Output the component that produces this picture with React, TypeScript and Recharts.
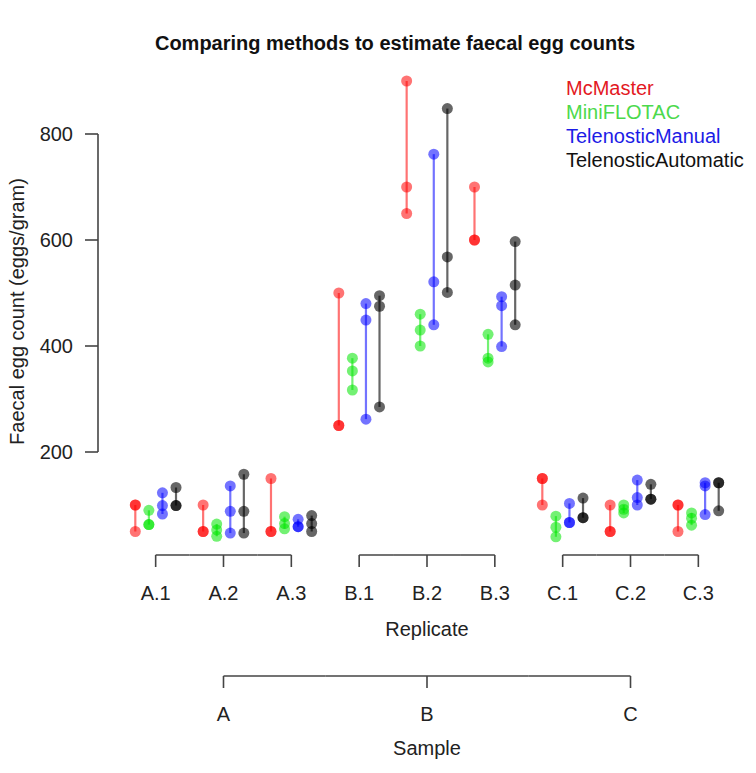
import React from 'react';
import { ComposedChart, Scatter, XAxis, YAxis, ErrorBar, ReferenceLine, Legend } from 'recharts';

// categories
const REPLICATES = ['A.1', 'A.2', 'A.3', 'B.1', 'B.2', 'B.3', 'C.1', 'C.2', 'C.3'];
const REPLICATE_TICKS = [1, 2, 3, 4, 5, 6, 7, 8, 9];
const SAMPLES = ['A', 'B', 'C'];
const SAMPLE_TICKS = [2, 5, 8];
const Y_TICKS = [200, 400, 600, 800];
const METHOD_NAMES = ['McMaster', 'MiniFLOTAC', 'TelenosticManual', 'TelenosticAutomatic'];

// three counts per replicate, eggs/gram
const MCMASTER = [
    [100, 100, 50], [100, 50, 50], [150, 50, 50],
    [500, 250, 250], [900, 700, 650], [700, 600, 600],
    [150, 150, 100], [100, 50, 50], [100, 100, 50],
];
const MINIFLOTAC = [
    [90, 63, 63], [64, 53, 41], [78, 65, 55],
    [377, 353, 317], [460, 430, 400], [422, 377, 370],
    [79, 58, 40], [100, 92, 85], [85, 75, 62],
];
const TELENOSTIC_MANUAL = [
    [123, 99, 83], [136, 88, 47], [73, 59, 59],
    [480, 449, 262], [762, 521, 440], [493, 476, 399],
    [103, 67, 67], [147, 114, 100], [142, 136, 82],
];
const TELENOSTIC_AUTOMATIC = [
    [133, 99, 99], [158, 88, 47], [80, 65, 50],
    [495, 475, 285], [848, 568, 501], [597, 515, 440],
    [113, 76, 76], [139, 111, 111], [142, 142, 89],
];
const METHOD_VALUES = [MCMASTER, MINIFLOTAC, TELENOSTIC_MANUAL, TELENOSTIC_AUTOMATIC];

// layout
const W = 756;
const H = 773;
const Y_AXIS_W = 98;
const X_DOMAIN: [number, number] = [0.15, 9.85];
const Y_DOMAIN: [number, number] = [0, 900];
const STEP_PX = (W - Y_AXIS_W) / (X_DOMAIN[1] - X_DOMAIN[0]);
const OFFSETS = [-0.3, -0.1, 0.1, 0.3];
const FONT = '"Liberation Sans", Arial, Helvetica, sans-serif';
const AXIS_COLOR = '#444';
const TEXT_COLOR = '#222';
const POINT_COLORS = ['rgba(255,0,0,0.55)', 'rgba(0,230,0,0.55)', 'rgba(0,0,255,0.55)', 'rgba(0,0,0,0.6)'];
const LEGEND_COLORS = ['#e3191f', '#4cd94c', '#1c1ce6', '#111'];

const pointData = METHOD_VALUES.map((vals, m) =>
    vals.flatMap((trip, i) => trip.map(v => ({ x: REPLICATE_TICKS[i] + OFFSETS[m], y: v })))
);
const rangeData = METHOD_VALUES.map((vals, m) =>
    vals.map((trip, i) => {
        const lo = Math.min(...trip);
        const hi = Math.max(...trip);
        return { x: REPLICATE_TICKS[i] + OFFSETS[m], y: lo, err: [0, hi - lo] };
    })
);

function ReplicateTick(props: any) {
    const { x, y, payload } = props;
    const v = payload.value;
    const pos = (v - 1) % 3;
    const half = STEP_PX / 2;
    const x1 = pos === 0 ? x : x - half;
    const x2 = pos === 2 ? x : x + half;
    return (
        <g>
            <line x1={x1} x2={x2} y1={y - 3} y2={y - 3} stroke={AXIS_COLOR} strokeWidth={1.6} />
            <line x1={x} x2={x} y1={y - 3} y2={y + 9} stroke={AXIS_COLOR} strokeWidth={1.6} />
            <text x={x} y={y + 42} textAnchor="middle" fontSize={20} fill={TEXT_COLOR} fontFamily={FONT}>
                {REPLICATES[REPLICATE_TICKS.indexOf(v)]}
            </text>
        </g>
    );
}

function SampleTick(props: any) {
    const { x, y, payload } = props;
    const idx = SAMPLE_TICKS.indexOf(payload.value);
    const half = STEP_PX * 1.5;
    const x1 = idx === 0 ? x : x - half;
    const x2 = idx === SAMPLE_TICKS.length - 1 ? x : x + half;
    return (
        <g>
            <line x1={x1} x2={x2} y1={y - 3} y2={y - 3} stroke={AXIS_COLOR} strokeWidth={1.6} />
            <line x1={x} x2={x} y1={y - 3} y2={y + 9} stroke={AXIS_COLOR} strokeWidth={1.6} />
            <text x={x} y={y + 42} textAnchor="middle" fontSize={20} fill={TEXT_COLOR} fontFamily={FONT}>
                {SAMPLES[idx]}
            </text>
        </g>
    );
}

const xTitle = (text: string, dy: number) => (p: any) => {
    const vb = p.viewBox;
    return (
        <text x={vb.x + vb.width / 2} y={vb.y + dy} textAnchor="middle" fontSize={20} fill={TEXT_COLOR} fontFamily={FONT}>
            {text}
        </text>
    );
};

const yTitle = (p: any) => {
    const vb = p.viewBox;
    const cx = 24;
    const cy = vb.y + vb.height / 2 - 8;
    return (
        <text x={cx} y={cy} transform={`rotate(-90, ${cx}, ${cy})`} textAnchor="middle" fontSize={20} fill={TEXT_COLOR} fontFamily={FONT}>
            Faecal egg count (eggs/gram)
        </text>
    );
};

// keep the legend in method order, not in draw order
const renderLegend = (props: any) => {
    const names = (props.payload || []).map((e: any) => e.value);
    return (
        <div style={{ fontFamily: FONT, fontSize: 20, lineHeight: '24px' }}>
            {METHOD_NAMES.filter(n => names.includes(n)).map(n => (
                <div key={n} style={{ color: LEGEND_COLORS[METHOD_NAMES.indexOf(n)], whiteSpace: 'nowrap' }}>
                    {n}
                </div>
            ))}
        </div>
    );
};

export default function App() {
    return (
        <div style={{ margin: -8, position: 'relative', width: W, height: H, background: '#fff' }}>
            <div style={{
                position: 'absolute', left: 95, top: 31, width: 600, textAlign: 'center',
                fontFamily: FONT, fontWeight: 'bold', fontSize: 20, lineHeight: '24px', color: '#111', zIndex: 1,
            }}>
                Comparing methods to estimate faecal egg counts
            </div>
            <ComposedChart width={W} height={H} margin={{ top: 81, right: 0, bottom: 0, left: 0 }}>
                <XAxis
                    xAxisId="rep"
                    dataKey="x"
                    type="number"
                    domain={X_DOMAIN}
                    ticks={REPLICATE_TICKS}
                    interval={0}
                    axisLine={false}
                    tickLine={false}
                    tickSize={0}
                    tickMargin={0}
                    height={121}
                    tick={<ReplicateTick />}
                    label={{ content: xTitle('Replicate', 78) }}
                />
                <XAxis
                    xAxisId="sample"
                    dataKey="x"
                    type="number"
                    domain={X_DOMAIN}
                    ticks={SAMPLE_TICKS}
                    interval={0}
                    axisLine={false}
                    tickLine={false}
                    tickSize={0}
                    tickMargin={0}
                    height={94}
                    tick={<SampleTick />}
                    label={{ content: xTitle('Sample', 76) }}
                />
                <YAxis
                    dataKey="y"
                    type="number"
                    domain={Y_DOMAIN}
                    ticks={Y_TICKS}
                    interval={0}
                    width={Y_AXIS_W}
                    axisLine={false}
                    tickSize={13}
                    tickMargin={12}
                    tickLine={{ stroke: AXIS_COLOR, strokeWidth: 1.6 }}
                    tick={{ fontSize: 20, fill: TEXT_COLOR, fontFamily: FONT }}
                    label={{ content: yTitle }}
                />
                <ReferenceLine
                    xAxisId="rep"
                    segment={[{ x: X_DOMAIN[0], y: Y_TICKS[0] }, { x: X_DOMAIN[0], y: Y_TICKS[Y_TICKS.length - 1] }]}
                    stroke={AXIS_COLOR}
                    strokeWidth={1.6}
                    ifOverflow="visible"
                />
                {/* range lines sit on the sample axis (same domain) so that axis has data */}
                {rangeData.map((d, m) => (
                    <Scatter
                        key={`range-${m}`}
                        xAxisId="sample"
                        data={d}
                        legendType="none"
                        isAnimationActive={false}
                        shape={() => <g />}
                    >
                        <ErrorBar dataKey="err" direction="y" width={0} stroke={POINT_COLORS[m]} strokeWidth={2.2} isAnimationActive={false} />
                    </Scatter>
                ))}
                {pointData.map((d, m) => (
                    <Scatter
                        key={`pts-${m}`}
                        xAxisId="rep"
                        name={METHOD_NAMES[m]}
                        data={d}
                        fill={POINT_COLORS[m]}
                        isAnimationActive={false}
                        shape={(p: any) => <circle cx={p.cx} cy={p.cy} r={5.5} fill={POINT_COLORS[m]} />}
                    />
                ))}
                <Legend
                    layout="vertical"
                    align="center"
                    verticalAlign="middle"
                    wrapperStyle={{ position: 'absolute', left: 566, top: 76, width: 'auto' }}
                    content={renderLegend}
                />
            </ComposedChart>
        </div>
    );
}
